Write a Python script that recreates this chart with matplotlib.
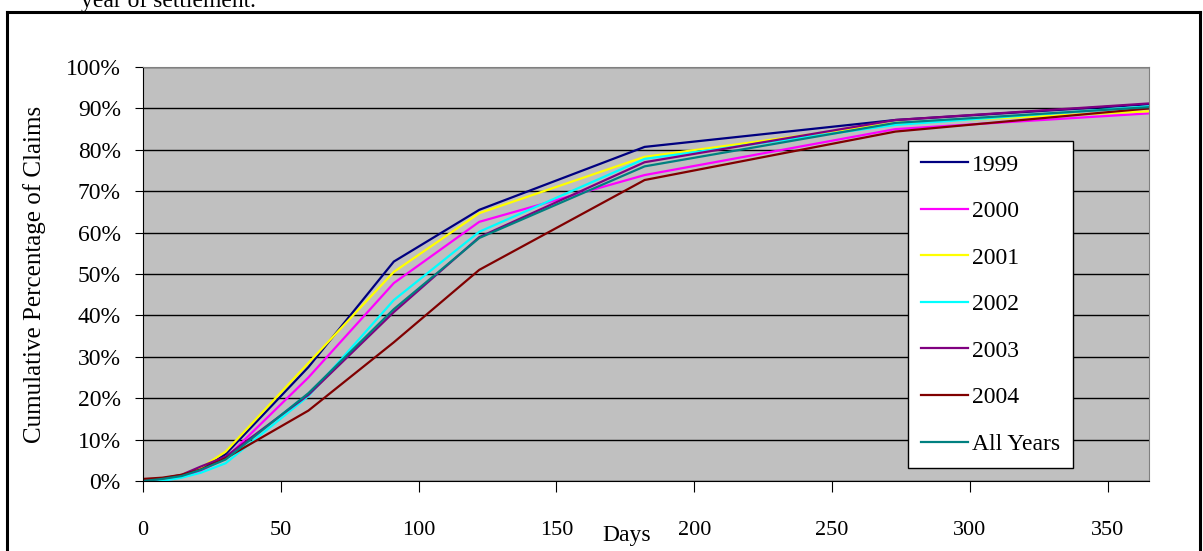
import numpy as np
import matplotlib
matplotlib.use("Agg")
from matplotlib import pyplot as plt
from matplotlib.lines import Line2D

plt.rcParams['font.family'] = ['Liberation Serif', 'DejaVu Serif']

days = [0, 7, 14, 21, 30, 60, 91, 122, 182, 273, 365]

y1999 = [0, 0.5, 1.2, 2.8, 6.5, 27.5, 53.0, 65.5, 80.7, 87.2, 91.0]
y2000 = [0, 0, 1.0, 2.5, 5.5, 25.0, 47.8, 62.6, 73.9, 85.0, 88.8]
y2001 = [0, 0.5, 1.5, 3.2, 7.1, 28.5, 50.5, 64.7, 78.3, 86.5, 89.3]
y2002 = [0, 0, 0.8, 2.0, 4.3, 20.5, 43.7, 60.2, 77.8, 86.0, 90.5]
y2003 = [0, 0.6, 1.5, 3.5, 5.9, 20.8, 40.8, 58.9, 77.0, 87.2, 91.2]
y2004 = [0.5, 0.8, 1.5, 2.8, 5.5, 17.0, 33.5, 51.0, 72.7, 84.4, 90.0]
yall = [0, 0.5, 1.2, 2.7, 5.2, 21.2, 41.5, 58.7, 76.0, 86.5, 90.3]

labels = ['1999', '2000', '2001', '2002', '2003', '2004', 'All Years']
series = [y1999, y2000, y2001, y2002, y2003, y2004, yall]
colors = ['#000080', '#FF00FF', '#FFFF00', '#00FFFF', '#800080', '#800000', '#008080']

W, H = 1203, 551
fig = plt.figure(figsize=(W / 100, H / 100), dpi=100)
ax = fig.add_axes([143 / W, 1 - 481 / H, (1149 - 143) / W, (481 - 67) / H])
ax.set_facecolor('#C0C0C0')

for ys, c, lab in zip(series, colors, labels):
    ax.plot(days, np.array(ys) / 100, color=c, lw=1.6, label=lab, solid_joinstyle='miter')

ax.set_xlim(0, 365)
ax.set_ylim(0, 1)
ax.set_yticks(np.arange(0, 1.01, 0.1))
ax.set_yticklabels([f'{int(round(v * 100))}%' for v in np.arange(0, 1.01, 0.1)])
ax.set_xticks(np.arange(0, 351, 50))
ax.yaxis.grid(True, color='black', lw=1.0)
ax.set_axisbelow(True)
for s in ['top', 'right']:
    ax.spines[s].set_color('#808080')
ax.spines['left'].set_color('black')
ax.spines['bottom'].set_color('black')
ax.tick_params(axis='y', direction='out', length=6, pad=10, labelsize=17)
ax.tick_params(axis='x', direction='out', length=8, pad=21, labelsize=16)

fig.text(35 / W, 1 - 274 / H, 'Cumulative Percentage of Claims', rotation=90,
         ha='center', va='center', fontsize=18)
fig.text(627 / W, 1 - 535 / H, 'Days', ha='center', va='center', fontsize=17)
fig.text(81 / W, 1 - 7 / H, 'year of settlement.', ha='left', va='baseline', fontsize=17)

leg = ax.legend(loc='upper left', bbox_to_anchor=((908 - 143) / 1006, (481 - 141) / 414),
                fontsize=17, frameon=True, fancybox=False, edgecolor='black',
                framealpha=1, labelspacing=1.06, handlelength=2.0, handletextpad=0.15,
                borderpad=0.55, borderaxespad=0)
leg.get_frame().set_linewidth(1.0)

# outer frame of the chart object
fig.add_artist(Line2D([7 / W, 7 / W], [0, 1 - 12 / H], color='black', lw=2.2))
fig.add_artist(Line2D([7 / W, 1200 / W], [1 - 12 / H, 1 - 12 / H], color='black', lw=2.2))
fig.add_artist(Line2D([1200 / W, 1200 / W], [0, 1 - 12 / H], color='black', lw=2.2))

fig.savefig('out.png', dpi=100)
